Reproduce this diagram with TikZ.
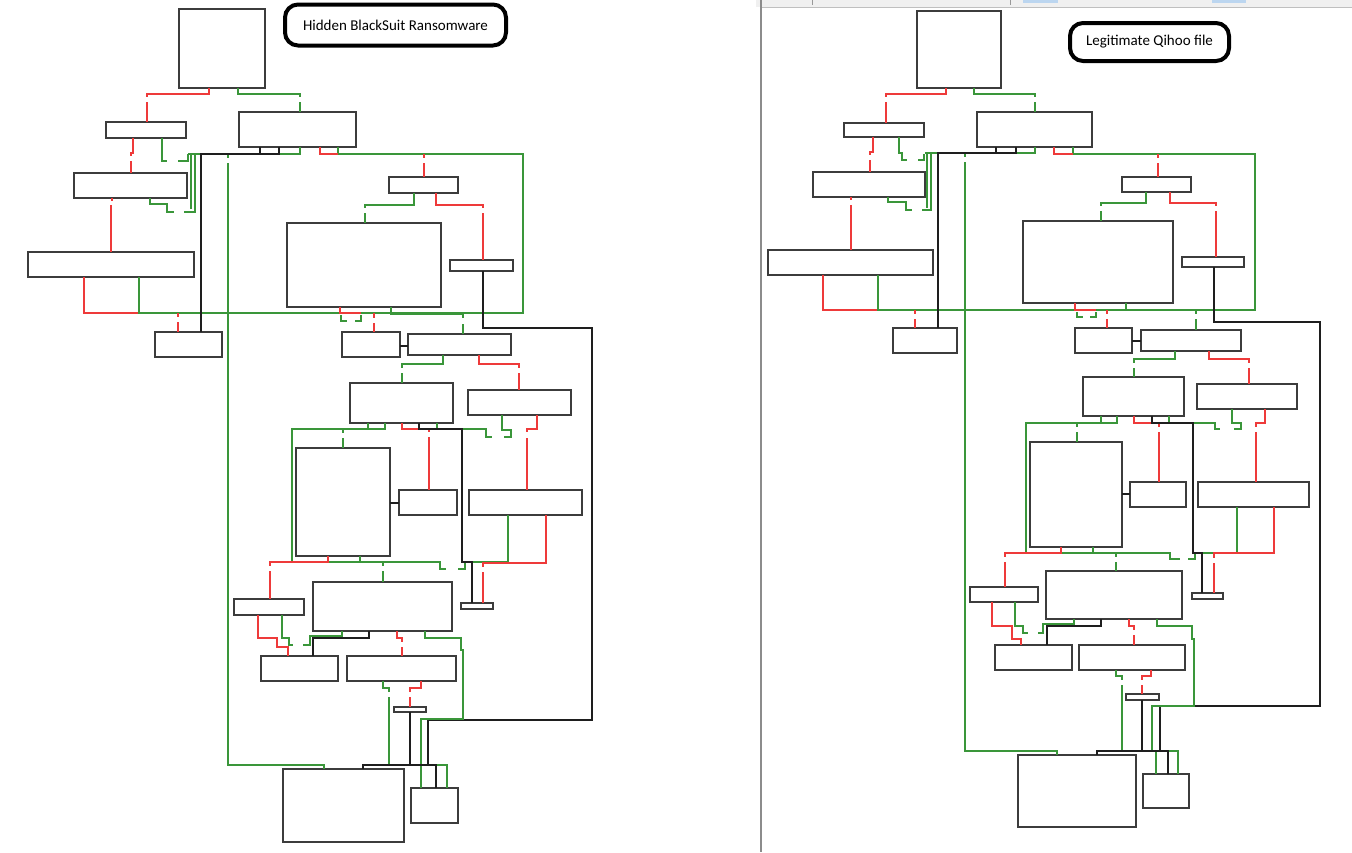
\documentclass[tikz,border=0pt]{standalone}
\usepackage{fontspec}
\newfontfamily\titlefont{Carlito}
\usetikzlibrary{fit}
\definecolor{gc}{RGB}{58,150,58}
\definecolor{rc}{RGB}{238,58,58}
\definecolor{kc}{RGB}{30,30,30}
\definecolor{bc}{RGB}{60,60,60}
\definecolor{tabc}{RGB}{188,214,240}
\begin{document}
\begin{tikzpicture}[x=1pt,y=-1pt,
  box/.style={draw=bc,line width=1.3pt,inner sep=0pt,outer sep=0pt,minimum size=0pt},
  gl/.style={draw=gc,line width=1.1pt},
  rl/.style={draw=rc,line width=1.1pt},
  kl/.style={draw=kc,line width=1.4pt},
  ttl/.style={draw=black,line width=4pt,rounded corners=13pt,inner sep=0pt,font=\titlefont\fontsize{15}{18}\selectfont}]
\useasboundingbox (0,0) rectangle (1352,852);
\fill[white] (0,0) rectangle (1352,852);
% right panel window frame
\fill[black!6] (756,0) rectangle (1352,7);
\draw[black!25,line width=0.8pt] (761,7) -- (1352,7);
\draw[black!40,line width=0.8pt] (812,0) -- (812,5) (1010,0) -- (1010,5);
\fill[tabc] (1023,0) rectangle (1058,3);
\fill[tabc] (1212,0) rectangle (1246,3);
\draw[black!45,line width=2pt] (761,0) -- (761,852);

% titles
\node[ttl,minimum width=221pt,minimum height=41pt] (T1) at (395.5,25) {Hidden BlackSuit Ransomware};
\node[ttl,minimum width=159pt,minimum height=38pt] (T2) at (1149.5,42) {Legitimate Qihoo file};

% left boxes
\node[box,fit={(179,9)(265,88)}] (L1) {};
\node[box,fit={(106,122)(186,138)}] (L2) {};
\node[box,fit={(239,112)(356,147)}] (L3) {};
\node[box,fit={(74,173)(187,198)}] (L4) {};
\node[box,fit={(28,252)(194,277)}] (L5) {};
\node[box,fit={(389,177)(458,193)}] (L6) {};
\node[box,fit={(287,223)(441,307)}] (L7) {};
\node[box,fit={(450,260)(513,271)}] (L8) {};
\node[box,fit={(155,332)(222,357)}] (L9) {};
\node[box,fit={(342,332)(400,357)}] (L10) {};
\node[box,fit={(408,334)(511,355)}] (L11) {};
\node[box,fit={(350,383)(453,423)}] (L12) {};
\node[box,fit={(468,390)(571,415)}] (L13) {};
\node[box,fit={(296,448)(390,556)}] (L14) {};
\node[box,fit={(399,490)(457,515)}] (L15) {};
\node[box,fit={(469,490)(582,515)}] (L16) {};
\node[box,fit={(461,603)(493,609)}] (L17) {};
\node[box,fit={(234,599)(304,615)}] (L18) {};
\node[box,fit={(313,582)(452,631)}] (L19) {};
\node[box,fit={(261,656)(338,681)}] (L20) {};
\node[box,fit={(347,656)(456,681)}] (L21) {};
\node[box,fit={(394,707)(426,712)}] (L22) {};
\node[box,fit={(283,769)(404,842)}] (L23) {};
\node[box,fit={(411,788)(458,823)}] (L24) {};

% right boxes
\node[box,fit={(917,11)(1001,88)}] (R1) {};
\node[box,fit={(844,123)(924,137)}] (R2) {};
\node[box,fit={(977,112)(1092,147)}] (R3) {};
\node[box,fit={(813,172)(925,197)}] (R4) {};
\node[box,fit={(768,250)(933,275)}] (R5) {};
\node[box,fit={(1122,177)(1191,192)}] (R6) {};
\node[box,fit={(1023,221)(1173,303)}] (R7) {};
\node[box,fit={(1182,257)(1244,267)}] (R8) {};
\node[box,fit={(893,328)(957,353)}] (R9) {};
\node[box,fit={(1075,328)(1132,353)}] (R10) {};
\node[box,fit={(1141,330)(1241,351)}] (R11) {};
\node[box,fit={(1083,377)(1184,416)}] (R12) {};
\node[box,fit={(1197,384)(1297,409)}] (R13) {};
\node[box,fit={(1030,442)(1122,547)}] (R14) {};
\node[box,fit={(1130,482)(1186,507)}] (R15) {};
\node[box,fit={(1198,482)(1309,507)}] (R16) {};
\node[box,fit={(1192,593)(1223,599)}] (R17) {};
\node[box,fit={(970,587)(1038,602)}] (R18) {};
\node[box,fit={(1046,571)(1182,619)}] (R19) {};
\node[box,fit={(995,645)(1072,670)}] (R20) {};
\node[box,fit={(1079,645)(1185,670)}] (R21) {};
\node[box,fit={(1126,694)(1159,700)}] (R22) {};
\node[box,fit={(1018,755)(1136,827)}] (R23) {};
\node[box,fit={(1143,774)(1189,808)}] (R24) {};

% ================= left connectors =================
\draw[rl] (L1.south -| 209,0) |- (147,94) -- (147,97) (147,102) -- (L2.north -| 147,0);
\draw[gl] (L1.south -| 238,0) |- (300,94) -- (300,97) (300,102) -- (L3.north -| 300,0);
\draw[rl] (L2.south -| 133,0) -- (133,153) -- (131,153) -- (131,156) (131,161) -- (L4.north -| 131,0);
\draw[gl] (L2.south -| 162,0) -- (162,161) -- (167,161) (178,161) -- (188,161) -- (188,154);
\draw[gl] (L4.south -| 150,0) -- (150,204) -- (167,204) -- (167,212) -- (174,212) (184,212) -- (195,212) -- (195,154);
\draw[gl] (191,154) -- (191,209);
\draw[rl] (L4.south -| 112,0) -- (112,201) (111,205) -- (L5.north -| 111,0);
\draw[rl] (L5.south -| 84,0) |- (139,313);
\draw[gl] (L5.south -| 139,0) -- (139,313) -- (523,313) -- (523,154) -- (338,154) -- (L3.south -| 338,0);
\draw[rl] (L3.south -| 320,0) -- (320,154) -- (338,154);
\draw[rl] (424,154) -- (424,158) (424,163) -- (L6.north -| 424,0);
\draw[gl] (L3.south -| 300,0) -- (300,154) -- (188,154);
\draw[gl] (228,154) -- (228,158) (228,163) -- (228,765) -- (324,765) -- (L23.north -| 324,0);
\draw[kl] (L3.south -| 279,0) -- (279,154) -- (201,154) -- (L9.north -| 201,0);
\draw[kl] (L3.south -| 260,0) -- (260,154);
\draw[gl] (L6.south -| 414,0) |- (365,205) -- (365,208) (365,213) -- (L7.north -| 365,0);
\draw[rl] (L6.south -| 436,0) |- (483,205) -- (483,208) (483,213) -- (L8.north -| 483,0);
\draw[kl] (L8.south -| 483,0) |- (592,328) |- (428,720) -- (428,765);
\draw[rl] (178,313) -- (178,317) (178,322) -- (L9.north -| 178,0);
\draw[rl] (L7.south -| 340,0) -- (340,313) -- (361,313);
\draw[gl] (341,315) -- (341,321) -- (347,321) (355,321) -- (361,321) -- (361,315);
\draw[rl] (374,313) -- (374,318) (374,323) -- (L10.north -| 374,0);
\draw[gl,line width=1.6pt] (L7.south -| 391,0) -- (391,314) -- (463,314) -- (463,318) (463,324) -- (L11.north -| 463,0);
\draw[kl] (L10.east |- 0,346) -- (L11.west |- 0,346);
\draw[gl] (L11.south -| 443,0) |- (402,364) -- (402,368) (402,373) -- (L12.north -| 402,0);
\draw[rl] (L11.south -| 479,0) |- (519,364) -- (519,368) (519,373) -- (L13.north -| 519,0);
\draw[gl] (L12.south -| 368,0) -- (368,429);
\draw[gl] (L12.south -| 385,0) -- (385,429) -- (292,429) -- (292,562) -- (440,562) -- (440,569) -- (446,569) (458,569) -- (465,569) -- (465,562);
\draw[gl] (343,429) -- (343,433) (343,438) -- (L14.north -| 343,0);
\draw[rl] (L12.south -| 402,0) |- (429,429) -- (429,432) (429,437) -- (L15.north -| 429,0);
\draw[gl] (L12.south -| 437,0) |- (486,429) -- (486,437) -- (492,437);
\draw[gl] (L13.south -| 502,0) |- (511,430) -- (511,437) -- (504,437);
\draw[rl] (L13.south -| 537,0) |- (527,429) -- (527,432) (527,438) -- (L16.north -| 527,0);
\draw[gl] (L16.south -| 508,0) |- (462,562);
\draw[kl] (L12.south -| 419,0) |- (462,429) -- (462,562) -- (472,562) -- (L17.north -| 472,0);
\draw[kl] (L14.east |- 0,503) -- (L15.west |- 0,503);
\draw[rl] (L16.south -| 546,0) |- (483,563) -- (483,567) (483,572) -- (L17.north -| 483,0);
\draw[rl] (L14.south -| 328,0) -- (328,562) -- (270,562) -- (270,566) (270,571) -- (L18.north -| 270,0);
\draw[gl] (L14.south -| 360,0) -- (360,562);
\draw[gl] (383,562) -- (383,566) (383,571) -- (L19.north -| 383,0);
\draw[rl] (L18.south -| 258,0) |- (277,638) |- (288,647) -- (L20.north -| 288,0);
\draw[gl] (L18.south -| 282,0) |- (289,638) |- (293,645) (303,645) -- (310,645) -- (310,636) -- (342,636) -- (L19.south -| 342,0);
\draw[kl] (L19.south -| 369,0) |- (313,638) -- (L20.north -| 313,0);
\draw[rl] (L19.south -| 397,0) |- (402,638) -- (402,642) (402,647) -- (L21.north -| 402,0);
\draw[gl] (L19.south -| 425,0) |- (461,638) -- (461,650) -- (463,650) -- (463,719) -- (421,719) -- (L24.north -| 421,0);
\draw[gl] (L21.south -| 383,0) |- (389,688) -- (389,692) (389,697) -- (389,765) -- (447,765) -- (L24.north -| 447,0);
\draw[rl] (L21.south -| 421,0) |- (410,688) -- (410,692) (410,697) -- (L22.north -| 410,0);
\draw[kl] (L22.south -| 410,0) -- (410,765);
\draw[kl] (L23.north -| 363,0) -- (363,765) -- (436,765) -- (L24.north -| 436,0);

% ================= right connectors =================
\draw[rl] (R1.south -| 946,0) |- (886,94) -- (886,97) (886,102) -- (R2.north -| 886,0);
\draw[gl] (R1.south -| 974,0) |- (1035,94) -- (1035,97) (1035,102) -- (R3.north -| 1035,0);
\draw[rl] (R2.south -| 873,0) -- (873,152) -- (870,152) -- (870,155) (870,160) -- (R4.north -| 870,0);
\draw[gl] (R2.south -| 899,0) -- (899,153) -- (902,153) -- (902,160) -- (907,160) (918,160) -- (924,160) -- (924,154);
\draw[gl] (R4.south -| 888,0) -- (888,202) -- (906,202) -- (906,210) -- (912,210) (922,210) -- (931,210) -- (931,154);
\draw[gl] (927,154) -- (927,208);
\draw[rl] (R4.south -| 851,0) -- (851,200) (851,205) -- (R5.north -| 851,0);
\draw[rl] (R5.south -| 823,0) |- (878,310);
\draw[gl] (R5.south -| 878,0) -- (878,310) -- (1255,310) -- (1255,154) -- (1073,154) -- (R3.south -| 1073,0);
\draw[rl] (R3.south -| 1054,0) -- (1054,154) -- (1073,154);
\draw[rl] (1158,154) -- (1158,158) (1158,163) -- (R6.north -| 1158,0);
\draw[gl] (R3.south -| 1035,0) -- (1035,153) -- (925,153);
\draw[gl] (965,153) -- (965,157) (965,162) -- (965,751) -- (1057,751) -- (R23.north -| 1057,0);
\draw[kl] (R3.south -| 1016,0) -- (1016,153) -- (938,153) -- (R9.north -| 938,0);
\draw[kl] (R3.south -| 996,0) -- (996,153);
\draw[gl] (R6.south -| 1146,0) |- (1101,203) -- (1101,206) (1101,211) -- (R7.north -| 1101,0);
\draw[rl] (R6.south -| 1170,0) |- (1216,203) -- (1216,206) (1216,211) -- (R8.north -| 1216,0);
\draw[kl] (R8.south -| 1214,0) |- (1320,322) |- (1160,706) -- (1160,751);
\draw[rl] (915,310) -- (915,314) (915,319) -- (R9.north -| 915,0);
\draw[rl] (R7.south -| 1075,0) |- (1096,310);
\draw[gl] (1077,312) -- (1077,317) -- (1083,317) (1090,317) -- (1096,317) -- (1096,312);
\draw[rl] (1107,310) -- (1107,314) (1107,319) -- (R10.north -| 1107,0);
\draw[gl,line width=1.6pt] (R7.south -| 1126,0) |- (1196,310) -- (1196,314) (1196,319) -- (R11.north -| 1196,0);
\draw[kl] (R10.east |- 0,341) -- (R11.west |- 0,341);
\draw[gl] (R11.south -| 1175,0) |- (1134,359) -- (1134,363) (1134,368) -- (R12.north -| 1134,0);
\draw[rl] (R11.south -| 1209,0) |- (1249,359) -- (1249,363) (1249,368) -- (R13.north -| 1249,0);
\draw[gl] (R12.south -| 1101,0) -- (1101,423);
\draw[gl] (R12.south -| 1117,0) -- (1117,423) -- (1026,423) -- (1026,553) -- (1170,553) -- (1170,559) -- (1180,559) (1188,559) -- (1195,559) -- (1195,553);
\draw[gl] (1077,423) -- (1077,427) (1077,432) -- (R14.north -| 1077,0);
\draw[rl] (R12.south -| 1134,0) |- (1159,423) -- (1159,427) (1159,432) -- (R15.north -| 1159,0);
\draw[gl] (R12.south -| 1169,0) |- (1215,423) -- (1215,429) -- (1220,429);
\draw[gl] (R13.south -| 1232,0) |- (1241,423) -- (1241,429) -- (1234,429);
\draw[rl] (R13.south -| 1265,0) |- (1256,423) -- (1256,427) (1256,432) -- (R16.north -| 1256,0);
\draw[gl] (R16.south -| 1237,0) |- (1193,553);
\draw[kl] (R12.south -| 1152,0) |- (1193,423) -- (1193,553) -- (1202,553) -- (R17.north -| 1202,0);
\draw[kl] (R14.east |- 0,494) -- (R15.west |- 0,494);
\draw[rl] (R16.south -| 1274,0) |- (1214,553) -- (1214,558) (1214,563) -- (R17.north -| 1214,0);
\draw[rl] (R14.south -| 1061,0) -- (1061,553) -- (1005,553) -- (1005,557) (1005,562) -- (R18.north -| 1005,0);
\draw[gl] (R14.south -| 1093,0) -- (1093,553);
\draw[gl] (1116,553) -- (1116,557) (1116,562) -- (R19.north -| 1116,0);
\draw[rl] (R18.south -| 992,0) |- (1012,626) |- (1021,639) -- (R20.north -| 1021,0);
\draw[gl] (R18.south -| 1015,0) |- (1023,626) |- (1028,633) (1038,633) -- (1043,633) -- (1043,624) -- (1074,624) -- (R19.south -| 1074,0);
\draw[kl] (R19.south -| 1101,0) |- (1047,626) -- (R20.north -| 1047,0);
\draw[rl] (R19.south -| 1129,0) |- (1134,626) -- (1134,630) (1134,635) -- (R21.north -| 1134,0);
\draw[gl] (R19.south -| 1157,0) |- (1192,626) -- (1192,639) -- (1194,639) -- (1194,706) -- (1152,706) -- (1152,751) -- (1156,751) -- (R24.north -| 1156,0);
\draw[gl] (R21.south -| 1116,0) |- (1122,676) -- (1122,680) (1122,685) -- (1122,751) -- (1178,751) -- (R24.north -| 1178,0);
\draw[rl] (R21.south -| 1151,0) |- (1142,676) -- (1142,680) (1142,685) -- (R22.north -| 1142,0);
\draw[kl] (R22.south -| 1142,0) -- (1142,751);
\draw[kl] (R23.north -| 1097,0) -- (1097,751) -- (1168,751) -- (R24.north -| 1168,0);
\end{tikzpicture}
\end{document}
